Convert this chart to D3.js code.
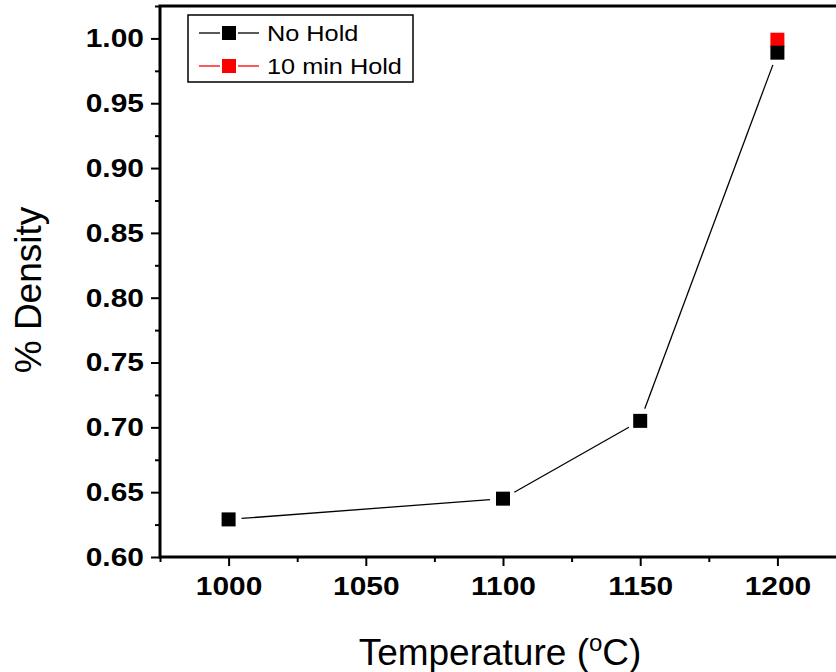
<!DOCTYPE html>
<html>
<head>
<meta charset="utf-8">
<script src="https://cdn.jsdelivr.net/npm/d3@7"></script>
<style>
  body { margin: 0; background: #fff; }
  svg { display: block; font-family: "Liberation Sans", Arial, sans-serif; }
</style>
</head>
<body>
<svg width="836" height="672"></svg>
<script>
const temps = [1000, 1100, 1150, 1200];
const noHold = [0.629, 0.645, 0.705, 0.989];
const holdTemps = [1200];
const hold10 = [0.999];
const xTicks = [1000, 1050, 1100, 1150, 1200];
const xMinor = [975, 1025, 1075, 1125, 1175, 1225];
const yTicks = [0.60, 0.65, 0.70, 0.75, 0.80, 0.85, 0.90, 0.95, 1.00];
const yMinor = [0.625, 0.675, 0.725, 0.775, 0.825, 0.875, 0.925, 0.975, 1.025];

const svg = d3.select("svg");
const x = d3.scaleLinear().domain([975, 1225]).range([160, 846]);
const y = d3.scaleLinear().domain([0.6, 1.025]).range([557, 6]);

// minor ticks
svg.append("g").attr("transform", "translate(0,557)")
  .call(d3.axisBottom(x).tickValues(xMinor).tickSize(5).tickFormat(""))
  .call(g => g.select(".domain").remove())
  .selectAll("line").attr("stroke", "#000").attr("stroke-width", 2);
svg.append("g").attr("transform", "translate(160,0)")
  .call(d3.axisLeft(y).tickValues(yMinor).tickSize(5).tickFormat(""))
  .call(g => g.select(".domain").remove())
  .selectAll("line").attr("stroke", "#000").attr("stroke-width", 2);

// major axes
const xAxis = svg.append("g").attr("transform", "translate(0,557)")
  .call(d3.axisBottom(x).tickValues(xTicks).tickSize(9).tickSizeOuter(0).tickPadding(11).tickFormat(d3.format("d")));
const yAxis = svg.append("g").attr("transform", "translate(160,0)")
  .call(d3.axisLeft(y).tickValues(yTicks).tickSize(9).tickSizeOuter(0).tickPadding(5).tickFormat(d3.format(".2f")));
[xAxis, yAxis].forEach(a => {
  a.select(".domain").remove();
  a.selectAll("line").attr("stroke", "#000").attr("stroke-width", 2);
  a.selectAll("text").attr("fill", "#000").attr("font-size", 26).attr("font-weight", "bold")
    .attr("font-family", "'Liberation Sans', Arial, sans-serif")
    .attr("transform", "scale(1.15,1)");
});

// frame
svg.append("rect")
  .attr("x", x(975)).attr("y", y(1.025))
  .attr("width", x(1225) - x(975)).attr("height", y(0.6) - y(1.025))
  .attr("fill", "none").attr("stroke", "#000").attr("stroke-width", 3);

// line segments with gaps near markers
const pts = temps.map((t, i) => [x(t), y(noHold[i])]);
const gap = 13;
for (let i = 0; i < pts.length - 1; i++) {
  const [x0, y0] = pts[i], [x1, y1] = pts[i + 1];
  const len = Math.hypot(x1 - x0, y1 - y0);
  const ux = (x1 - x0) / len, uy = (y1 - y0) / len;
  svg.append("line")
    .attr("x1", x0 + ux * gap).attr("y1", y0 + uy * gap)
    .attr("x2", x1 - ux * gap).attr("y2", y1 - uy * gap)
    .attr("stroke", "#000").attr("stroke-width", 1.3);
}

const ms = 14;
svg.selectAll(".hold").data(holdTemps).join("rect")
  .attr("x", d => x(d) - ms / 2).attr("y", (d, i) => y(hold10[i]) - ms / 2)
  .attr("width", ms).attr("height", ms).attr("fill", "#ff0000");
svg.selectAll(".nohold").data(temps).join("rect")
  .attr("x", d => x(d) - ms / 2).attr("y", (d, i) => y(noHold[i]) - ms / 2)
  .attr("width", ms).attr("height", ms).attr("fill", "#000");

// legend
const legend = svg.append("g");
legend.append("rect").attr("x", 188).attr("y", 15).attr("width", 225).attr("height", 67)
  .attr("fill", "#fff").attr("stroke", "#000").attr("stroke-width", 1.5);
const legendItems = [
  { label: "No Hold", color: "#000" },
  { label: "10 min Hold", color: "#ff0000" }
];
legendItems.forEach((d, i) => {
  const cy = 33 + i * 33;
  legend.append("line").attr("x1", 199).attr("x2", 220).attr("y1", cy).attr("y2", cy)
    .attr("stroke", d.color).attr("stroke-width", 1.3);
  legend.append("line").attr("x1", 238).attr("x2", 259).attr("y1", cy).attr("y2", cy)
    .attr("stroke", d.color).attr("stroke-width", 1.3);
  legend.append("rect").attr("x", 222).attr("y", cy - 7).attr("width", 14).attr("height", 14)
    .attr("fill", d.color);
  legend.append("text").attr("transform", `translate(267,${cy + 8}) scale(1.15,1)`)
    .attr("font-size", 22).attr("fill", "#000").text(d.label);
});

// axis titles
const xt = svg.append("text").attr("x", 500).attr("y", 665).attr("text-anchor", "middle")
  .attr("font-size", 37).attr("fill", "#000");
xt.append("tspan").text("Temperature (");
xt.append("tspan").attr("font-size", 24).attr("dy", -14).text("o");
xt.append("tspan").attr("dy", 14).text("C)");

svg.append("text").attr("transform", "translate(41,290) rotate(-90)")
  .attr("text-anchor", "middle").attr("font-size", 37).attr("fill", "#000")
  .text("% Density");
</script>
</body>
</html>
